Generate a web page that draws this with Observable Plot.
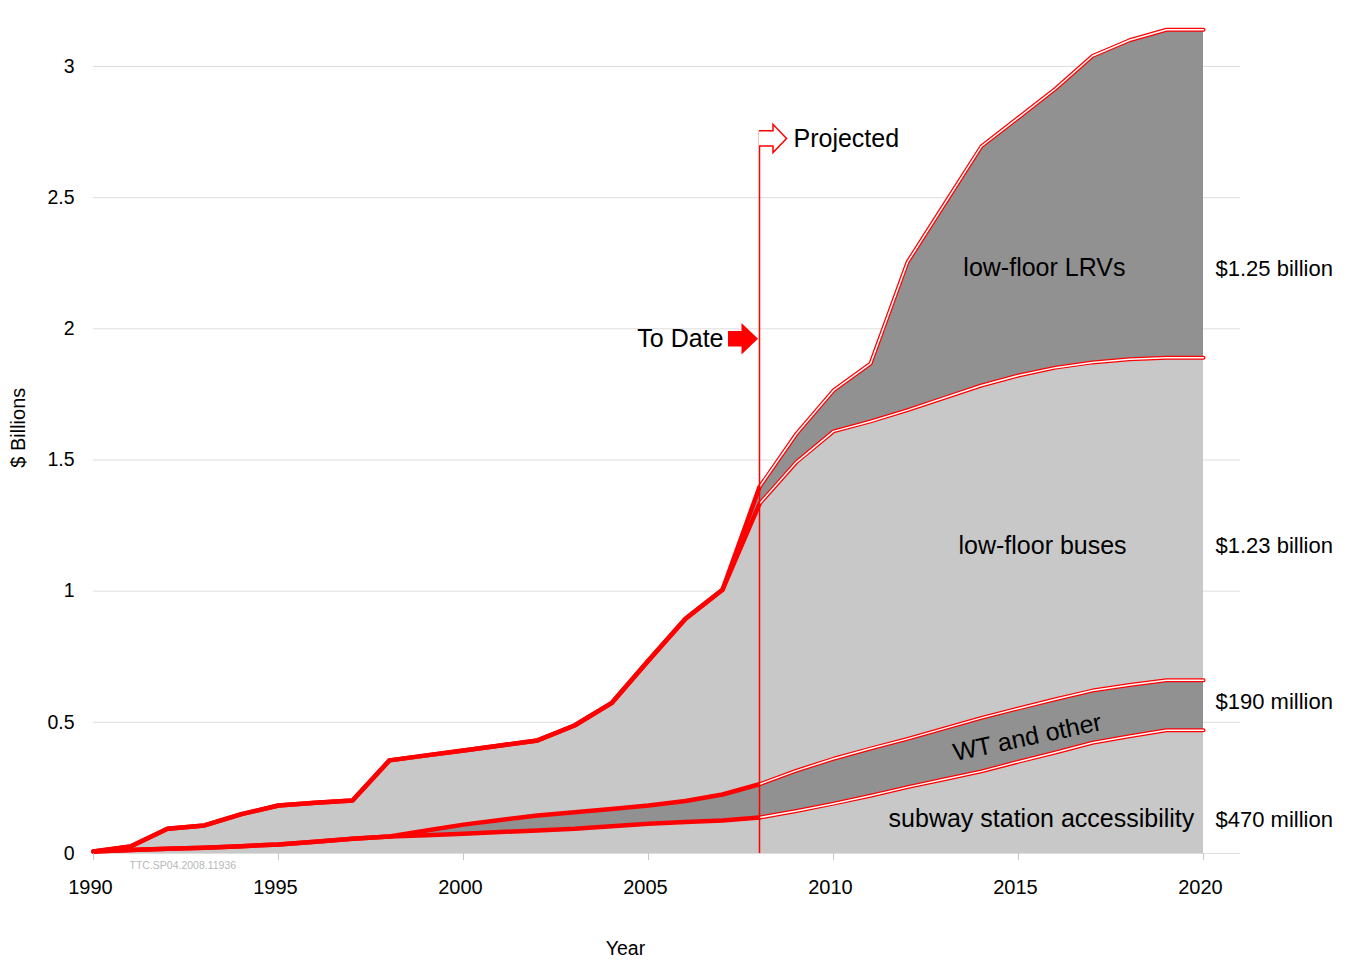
<!DOCTYPE html>
<html>
<head>
<meta charset="utf-8">
<script src="https://cdn.jsdelivr.net/npm/d3@7"></script>
<script src="https://cdn.jsdelivr.net/npm/@observablehq/plot@0.6"></script>
<style>
  html, body { margin: 0; padding: 0; background: #fff; overflow: hidden; }
</style>
</head>
<body>
<div id="chart"></div>
<script>
// Cumulative accessibility spending by program, $ billions (actual to 2008, projected after)
const years = d3.range(1990, 2021);
const seriesNames = ["subway station accessibility", "WT and other", "low-floor buses", "low-floor LRVs"];

const subway = [0.008, 0.013, 0.018, 0.022, 0.028, 0.034, 0.045, 0.056, 0.065, 0.070,
                0.075, 0.082, 0.088, 0.094, 0.104, 0.113, 0.120, 0.126, 0.137, 0.162,
                0.190, 0.220, 0.253, 0.283, 0.313, 0.350, 0.385, 0.422, 0.447, 0.470, 0.470];
const wtOther = [0, 0, 0, 0, 0, 0, 0, 0, 0, 0.018,
                 0.035, 0.046, 0.057, 0.063, 0.066, 0.070, 0.080, 0.099, 0.127, 0.154,
                 0.171, 0.180, 0.184, 0.194, 0.204, 0.203, 0.203, 0.199, 0.195, 0.190, 0.190];
const buses = [0, 0.014, 0.076, 0.085, 0.122, 0.149, 0.148, 0.146, 0.290, 0.286,
               0.283, 0.284, 0.286, 0.331, 0.403, 0.553, 0.695, 0.780, 1.069, 1.176,
               1.248, 1.247, 1.253, 1.260, 1.267, 1.269, 1.264, 1.251, 1.242, 1.230, 1.230];
const lrvs = [0, 0, 0, 0, 0, 0, 0, 0, 0, 0,
              0, 0, 0, 0, 0, 0, 0, 0, 0.064, 0.108,
              0.156, 0.220, 0.564, 0.738, 0.912, 0.983, 1.063, 1.168, 1.216, 1.250, 1.250];

const xTicks = [1990, 1995, 2000, 2005, 2010, 2015, 2020];
const yTicks = [0, 0.5, 1, 1.5, 2, 2.5, 3];

// Split between spending to date and projections
const splitYear = 2008;
const splitTop = 2.753;
const toDateLevel = 1.96;

// Where the program names sit inside their bands
const layerLabelX = [2015.62, 2015.24, 2015.65, 2015.7];
const layerLabelY = [0.133, 0.442, 1.174, 2.23];
const layerLabelAngle = [0, -12, 0, 0];
const totalLabelY = [0.126, 0.576, 1.174, 2.23];

const layerFills = ["#c8c8c8", "#919191", "#c8c8c8", "#919191"];

// Long table for stacking
const valuesBySeries = [subway, wtOther, buses, lrvs];
const rows = years.flatMap((year, i) =>
  valuesBySeries.map((vals, k) => ({year, series: seriesNames[k], value: vals[i]}))
);

const formatTotal = v => v >= 1 ? `$${v.toFixed(2)} billion` : `$${Math.round(v * 1000)} million`;
const layerLabels = seriesNames.map((name, k) => ({
  text: name, x: layerLabelX[k], y: layerLabelY[k], angle: layerLabelAngle[k]
}));
const totalLabels = valuesBySeries.map((vals, k) => ({
  text: formatTotal(vals[vals.length - 1]), y: totalLabelY[k]
}));

const stackedTops = (test, opts) =>
  Plot.filter(test, Plot.stackY2({x: "year", y: "value", z: "series", ...opts}));

// Arrow heads marking "to date" and "projected"
function dividerArrows(index, {x, y}) {
  const g = d3.create("svg:g");
  const px = x(splitYear);
  const top = y(splitTop);
  g.append("path")
    .attr("d", `M${px},${top}h14v-6.5l13.5,14.15l-13.5,14.15v-6.5h-14`)
    .attr("fill", "white")
    .attr("stroke", "red")
    .attr("stroke-width", 1.5);
  const cy = y(toDateLevel);
  const tip = px - 1;
  g.append("path")
    .attr("d", `M${tip - 30},${cy - 7.8}H${tip - 16.5}V${cy - 15.8}L${tip},${cy}L${tip - 16.5},${cy + 15.8}V${cy + 7.8}H${tip - 30}Z`)
    .attr("fill", "red");
  return g.node();
}

const chart = Plot.plot({
  width: 1349,
  height: 961,
  marginLeft: 93,
  marginRight: 109,
  marginTop: 13.5,
  marginBottom: 108,
  style: {fontFamily: "'Liberation Sans', Arial, Helvetica, sans-serif", background: "white", color: "black"},
  x: {domain: [1990, 2021]},
  y: {domain: [0, 3.2]},
  color: {domain: seriesNames, range: layerFills},
  marks: [
    Plot.gridY(yTicks, {stroke: "#dedede", strokeOpacity: 1}),
    Plot.areaY(rows, {x: "year", y: "value", z: "series", fill: "series"}),
    // actual spending: solid heavy outlines
    Plot.lineY(rows, stackedTops(d => d.year <= splitYear, {stroke: "red", strokeWidth: 4.5})),
    // projected spending: double outlines
    Plot.lineY(rows, stackedTops(d => d.year >= splitYear, {stroke: "red", strokeWidth: 4})),
    Plot.lineY(rows, stackedTops(d => d.year >= splitYear, {stroke: "white", strokeWidth: 1.5})),
    Plot.ruleX([splitYear], {y1: 0, y2: splitTop, stroke: "red", strokeWidth: 1.5}),
    dividerArrows,
    Plot.text(["Projected"], {x: () => splitYear, y: () => splitTop, dx: 34, dy: 7.5, textAnchor: "start", fontSize: 25}),
    Plot.text(["To Date"], {x: () => splitYear, y: () => toDateLevel, dx: -36, textAnchor: "end", fontSize: 25}),
    Plot.text(layerLabels, {x: "x", y: "y", text: "text", rotate: "angle", fontSize: 25, fill: "black"}),
    Plot.text(totalLabels, {x: () => 2020, y: "y", text: "text", dx: 12, textAnchor: "start", fontSize: 22, fill: "black"}),
    Plot.axisY({ticks: yTicks, tickSize: 0, tickPadding: 19, tickFormat: d => String(d), fontSize: 19.5, label: null}),
    // x tick marks and year labels
    Plot.axisX({ticks: xTicks, tickSize: 7, stroke: "#c8c8c8", fill: "none", tickFormat: d => String(d), label: null}),
    Plot.axisX({ticks: xTicks, tickSize: 0, tickPadding: 26, fill: "black", tickFormat: d => String(d), fontSize: 20, dx: -3, label: null}),
    Plot.text(["$ Billions"], {frameAnchor: "left", textAnchor: "middle", dx: -75, dy: -6, rotate: -90, fontSize: 20}),
    Plot.text(["Year"], {frameAnchor: "bottom", dx: -41.5, dy: 101, fontSize: 19.5}),
    Plot.text(["TTC.SP04.2008.11936"], {frameAnchor: "bottom-left", dx: 36, dy: 15, textAnchor: "start", fontSize: 10.5, fill: "#b8b8b8"})
  ]
});

document.getElementById("chart").append(chart);
</script>
</body>
</html>
